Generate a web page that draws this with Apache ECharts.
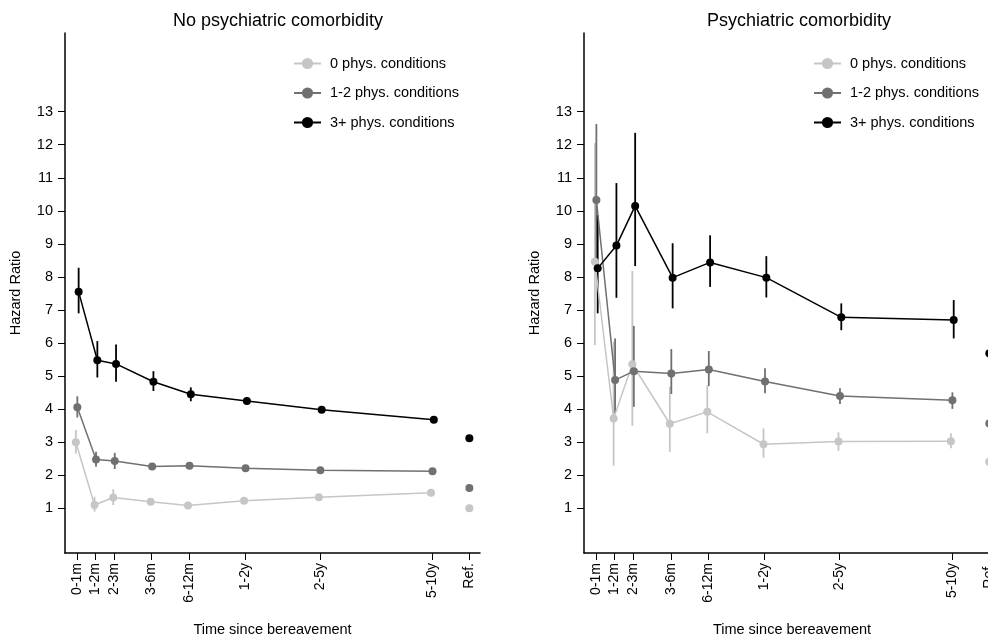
<!DOCTYPE html>
<html>
<head>
<meta charset="utf-8">
<script src="https://cdn.jsdelivr.net/npm/echarts@6/dist/echarts.min.js"></script>
<style>
  html, body { margin: 0; padding: 0; background: #fff; }
  #chart { width: 988px; height: 639px; }
</style>
</head>
<body>
<div id="chart"></div>
<script>
// x positions of the time bins (spaced as in the original plot) and labels
var xPos = [0, 1, 2, 4, 6, 9, 13, 19];
var refPos = 21;
var xLabels = ['0-1m', '1-2m', '2-3m', '3-6m', '6-12m', '1-2y', '2-5y', '5-10y', 'Ref.'];
var yTicks = [1, 2, 3, 4, 5, 6, 7, 8, 9, 10, 11, 12, 13];
var groupNames = ['0 phys. conditions', '1-2 phys. conditions', '3+ phys. conditions'];

// No psychiatric comorbidity
var noPsy0   = [3.00, 1.10, 1.33, 1.20, 1.09, 1.23, 1.34, 1.47];
var noPsy0Lo = [2.66, 0.90, 1.10, 1.12, 1.03, 1.16, 1.28, 1.41];
var noPsy0Hi = [3.37, 1.35, 1.58, 1.28, 1.15, 1.30, 1.40, 1.53];
var noPsy12   = [4.06, 2.48, 2.43, 2.27, 2.29, 2.21, 2.15, 2.12];
var noPsy12Lo = [3.75, 2.26, 2.19, 2.19, 2.22, 2.15, 2.09, 2.06];
var noPsy12Hi = [4.39, 2.71, 2.68, 2.35, 2.36, 2.27, 2.21, 2.18];
var noPsy3   = [7.55, 5.48, 5.37, 4.83, 4.45, 4.25, 3.98, 3.68];
var noPsy3Lo = [6.90, 4.96, 4.83, 4.55, 4.24, 4.14, 3.92, 3.62];
var noPsy3Hi = [8.28, 6.06, 5.96, 5.15, 4.66, 4.37, 4.05, 3.74];
var noPsyRef = [1.00, 1.62, 3.12];

// Psychiatric comorbidity
var psy0   = [8.46, 3.72, 5.36, 3.56, 3.92, 2.94, 3.02, 3.03];
var psy0Lo = [5.94, 2.29, 3.50, 2.71, 3.27, 2.53, 2.74, 2.82];
var psy0Hi = [12.05, 6.04, 8.18, 4.68, 4.72, 3.42, 3.30, 3.27];
var psy12   = [10.33, 4.88, 5.15, 5.08, 5.20, 4.84, 4.40, 4.27];
var psy12Lo = [8.45, 3.88, 4.07, 4.46, 4.70, 4.48, 4.16, 4.01];
var psy12Hi = [12.63, 6.14, 6.52, 5.82, 5.76, 5.24, 4.63, 4.51];
var psy3   = [8.26, 8.95, 10.15, 7.98, 8.44, 7.98, 6.78, 6.70];
var psy3Lo = [6.90, 7.37, 8.33, 7.05, 7.70, 7.38, 6.39, 6.14];
var psy3Hi = [9.87, 10.84, 12.36, 9.02, 9.26, 8.63, 7.20, 7.30];
var psyRef = [2.41, 3.57, 5.69];

var colors = ['#c6c6c6', '#707070', '#000000'];
var dodge = [-0.05, 0.03, 0.1];
var font = 'Liberation Sans, Arial, sans-serif';

function errorBars(idx, x, lo, hi, color, dx) {
    var data = x.map(function (v, i) { return [v + dx, lo[i], hi[i]]; });
    return {
        type: 'custom',
        xAxisIndex: idx, yAxisIndex: idx,
        silent: true,
        data: data,
        encode: { x: 0, y: [1, 2] },
        renderItem: function (params, api) {
            var a = api.coord([api.value(0), api.value(1)]);
            var b = api.coord([api.value(0), api.value(2)]);
            return {
                type: 'line',
                shape: { x1: a[0], y1: a[1], x2: b[0], y2: b[1] },
                style: { stroke: color, lineWidth: 1.8 }
            };
        }
    };
}

function panel(idx, groups, refs) {
    var out = [];
    groups.forEach(function (g, k) {
        out.push(errorBars(idx, xPos, g[1], g[2], colors[k], dodge[k]));
        out.push({
            type: 'line',
            name: groupNames[k],
            xAxisIndex: idx, yAxisIndex: idx,
            data: xPos.map(function (v, i) { return [v + dodge[k], g[0][i]]; }),
            symbol: 'circle', symbolSize: 8,
            itemStyle: { color: colors[k], opacity: 1 },
            lineStyle: { color: colors[k], width: 1.5 }
        });
        out.push({
            type: 'scatter',
            name: 'ref' + k,
            xAxisIndex: idx, yAxisIndex: idx,
            data: [[refPos, refs[k]]],
            symbol: 'circle', symbolSize: 8,
            itemStyle: { color: colors[k], opacity: 1 }
        });
    });
    return out;
}

function xAxisOf(idx) {
    var ticks = xPos.concat([refPos]);
    return {
        type: 'value', gridIndex: idx,
        min: -0.63, max: 21.57,
        name: 'Time since bereavement',
        nameLocation: 'middle', nameGap: 69, nameMoveOverlap: false,
        nameTextStyle: { fontFamily: font, fontSize: 14.5, color: '#000' },
        axisLine: { onZero: false, lineStyle: { color: '#000', width: 1.5 } },
        axisTick: { show: true, length: 7, customValues: ticks, lineStyle: { color: '#000' } },
        axisLabel: {
            customValues: ticks, rotate: 90, margin: 10,
            fontFamily: font, fontSize: 14, color: '#000',
            formatter: function (v) { return xLabels[ticks.indexOf(v)]; }
        },
        splitLine: { show: false }
    };
}

function yAxisOf(idx) {
    return {
        type: 'value', gridIndex: idx,
        min: -0.35, max: 15.38,
        name: 'Hazard Ratio',
        nameLocation: 'middle', nameGap: 42, nameMoveOverlap: false,
        nameTextStyle: { fontFamily: font, fontSize: 14.5, color: '#000' },
        axisLine: { show: true, onZero: false, lineStyle: { color: '#000', width: 1.5 } },
        axisTick: { show: true, length: 7, customValues: yTicks, lineStyle: { color: '#000' } },
        axisLabel: { customValues: yTicks, margin: 12, fontFamily: font, fontSize: 14.5, color: '#000' },
        splitLine: { show: false }
    };
}

function legendOf(left) {
    return {
        data: groupNames,
        orient: 'vertical',
        left: left, top: 51,
        itemWidth: 27, itemHeight: 14, itemGap: 14.5,
        textStyle: { fontFamily: font, fontSize: 14.5, lineHeight: 14, color: '#000', padding: [0, 0, 0, 4] }
    };
}

var myChart = echarts.init(document.getElementById('chart'));

var option = {
    backgroundColor: '#fff',
    animation: false,
    title: [
        { text: 'No psychiatric comorbidity', left: 273, textAlign: 'center', top: 7,
          textStyle: { fontFamily: font, fontSize: 18, fontWeight: 'normal', color: '#000' } },
        { text: 'Psychiatric comorbidity', left: 794, textAlign: 'center', top: 7,
          textStyle: { fontFamily: font, fontSize: 18, fontWeight: 'normal', color: '#000' } }
    ],
    legend: [legendOf(288), legendOf(808)],
    grid: [
        { left: 65, top: 33, width: 415, height: 520, outerBoundsMode: 'none' },
        { left: 584, top: 33, width: 416, height: 520, outerBoundsMode: 'none' }
    ],
    xAxis: [xAxisOf(0), xAxisOf(1)],
    yAxis: [yAxisOf(0), yAxisOf(1)],
    series: panel(0, [[noPsy0, noPsy0Lo, noPsy0Hi], [noPsy12, noPsy12Lo, noPsy12Hi], [noPsy3, noPsy3Lo, noPsy3Hi]], noPsyRef)
        .concat(panel(1, [[psy0, psy0Lo, psy0Hi], [psy12, psy12Lo, psy12Hi], [psy3, psy3Lo, psy3Hi]], psyRef))
};

myChart.setOption(option);
</script>
</body>
</html>
